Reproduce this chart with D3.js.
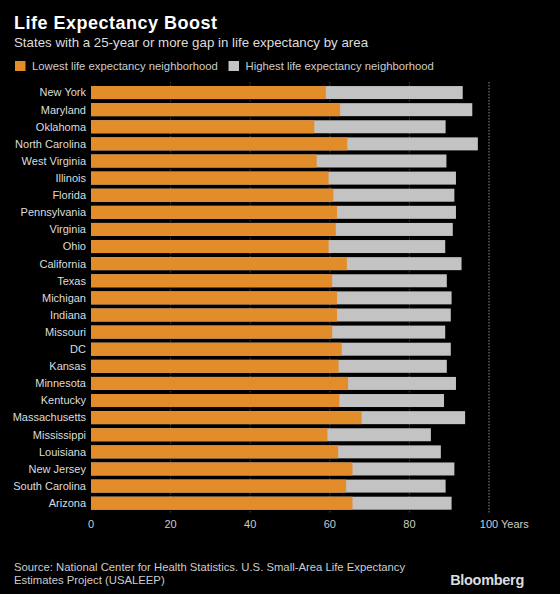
<!DOCTYPE html>
<html>
<head>
<meta charset="utf-8">
<script src="https://cdn.jsdelivr.net/npm/d3@7"></script>
<style>
  html, body { margin: 0; padding: 0; background: #000; }
  svg { display: block; }
  text { font-family: "Liberation Sans", Arial, sans-serif; }
</style>
</head>
<body>
<svg id="chart" width="560" height="594"></svg>
<script>
const states = ["New York","Maryland","Oklahoma","North Carolina","West Virginia","Illinois","Florida","Pennsylvania","Virginia","Ohio","California","Texas","Michigan","Indiana","Missouri","DC","Kansas","Minnesota","Kentucky","Massachusetts","Mississippi","Louisiana","New Jersey","South Carolina","Arizona"];
const lowest  = [59.0,62.6,56.1,64.4,56.7,59.7,60.9,61.8,61.5,59.7,64.3,60.6,61.8,61.8,60.6,63.0,62.2,64.6,62.4,68.0,59.4,62.1,65.7,64.1,65.7];
const highest = [93.4,95.8,89.1,97.2,89.3,91.7,91.3,91.7,90.9,89.0,93.1,89.4,90.6,90.4,89.0,90.4,89.4,91.7,88.7,94.0,85.4,87.9,91.3,89.1,90.6];
const xTicks = [0,20,40,60,80,100];
const seriesNames = ["Lowest life expectancy neighborhood","Highest life expectancy neighborhood"];
const colors = ["#e38c2a","#c3c3c3"];

const svg = d3.select("#chart");
svg.append("rect").attr("width",560).attr("height",594).attr("fill","#000");

const x = d3.scaleLinear().domain([0,100]).range([91,489]);
const y = d3.scaleBand().domain(states).range([84,511.75]).paddingInner(0.24).paddingOuter(0.12);

// Title
svg.append("text").attr("x",14).attr("y",29).attr("fill","#fff")
  .attr("font-size",18).attr("font-weight","bold").attr("letter-spacing",0.5).text("Life Expectancy Boost");
svg.append("text").attr("x",14).attr("y",47).attr("fill","#ddd")
  .attr("font-size",13.3).text("States with a 25-year or more gap in life expectancy by area");

// Legend
const legX = [15, 228.5];
seriesNames.forEach((n,i)=>{
  svg.append("rect").attr("x",legX[i]).attr("y",61).attr("width",10.5).attr("height",10).attr("fill",colors[i]);
  svg.append("text").attr("x",legX[i]+17).attr("y",70).attr("fill","#ccc").attr("font-size",11.3).text(n);
});

// Gridlines
const grid = svg.append("g");
xTicks.filter(t=>t>0).forEach(t=>{
  grid.append("line").attr("x1",x(t)).attr("x2",x(t)).attr("y1",82).attr("y2",514)
    .attr("stroke", t===100 ? "#888" : "#444").attr("stroke-width",1)
    .attr("stroke-dasharray","1.5,1.5");
});

// Bars
const rows = svg.append("g");
states.forEach((s,i)=>{
  rows.append("rect").attr("x",x(0)).attr("y",y(s)).attr("width",x(highest[i])-x(0)).attr("height",y.bandwidth()).attr("fill",colors[1]);
  rows.append("rect").attr("x",x(0)).attr("y",y(s)).attr("width",x(lowest[i])-x(0)).attr("height",y.bandwidth()).attr("fill",colors[0]);
  rows.append("text").attr("x",86).attr("y",y(s)+y.bandwidth()/2).attr("dy","0.35em")
    .attr("text-anchor","end").attr("fill","#ddd").attr("font-size",11).text(s);
});

// X axis labels
const axisG = svg.append("g");
xTicks.forEach(t=>{
  const tx = axisG.append("text").attr("x",x(t)).attr("y",528).attr("fill","#ccc").attr("font-size",11)
    .attr("text-anchor","middle").text(t);
  if (t===100) {
    const w = tx.node().getComputedTextLength();
    axisG.append("text").attr("x",x(t)+w/2).attr("y",528).attr("fill","#ccc").attr("font-size",11)
      .text(" Years").attr("xml:space","preserve");
  }
});

// Source
svg.append("text").attr("x",14).attr("y",571).attr("fill","#ccc").attr("font-size",11.3)
  .text("Source: National Center for Health Statistics. U.S. Small-Area Life Expectancy");
svg.append("text").attr("x",14).attr("y",584).attr("fill","#ccc").attr("font-size",11.3)
  .text("Estimates Project (USALEEP)");
svg.append("text").attr("x",524).attr("y",585).attr("fill","#ddd").attr("font-size",14.5)
  .attr("font-weight","bold").attr("text-anchor","end").attr("letter-spacing",-0.3).text("Bloomberg");
</script>
</body>
</html>
